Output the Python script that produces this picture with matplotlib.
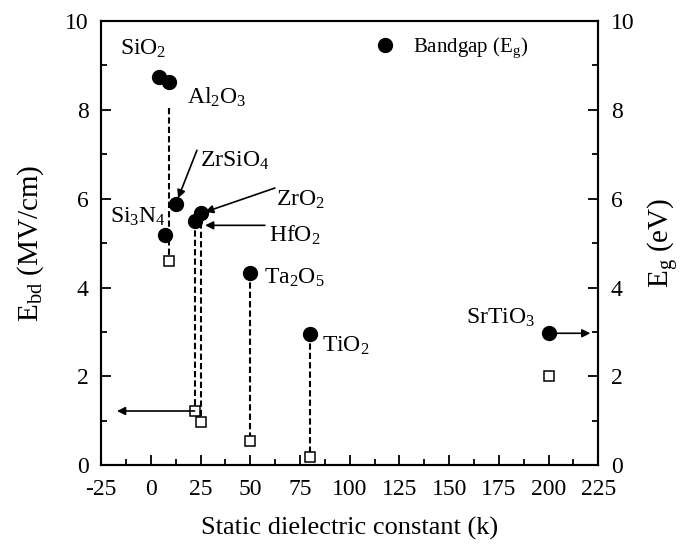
import matplotlib
matplotlib.use("Agg")
import matplotlib.pyplot as plt
from matplotlib.ticker import MultipleLocator

plt.rcParams['font.family'] = ['Liberation Serif', 'DejaVu Serif']
plt.rcParams['mathtext.fontset'] = 'custom'
plt.rcParams['mathtext.rm'] = 'Liberation Serif'
plt.rcParams['mathtext.default'] = 'regular'
plt.rcParams['axes.unicode_minus'] = False

# bandgap points (filled circles, right axis)
names = ['SiO$_2$', 'Al$_2$O$_3$', 'ZrSiO$_4$', 'Si$_3$N$_4$', 'ZrO$_2$',
         'HfO$_2$', 'Ta$_2$O$_5$', 'TiO$_2$', 'SrTiO$_3$']
k_vals = [3.9, 9, 12.5, 7, 25, 22, 50, 80, 200]
eg_vals = [8.75, 8.63, 5.88, 5.18, 5.68, 5.5, 4.32, 2.95, 2.97]

# breakdown field points (open squares, left axis)
ebd_k = [9, 22, 25, 50, 80, 200]
ebd_vals = [4.6, 1.22, 0.97, 0.55, 0.18, 2.0]

# which bandgap point each dashed drop line starts from (index into k_vals)
drop_from = [1, 5, 4, 6, 7]

# label placement: (x, y, ha)
label_pos = [(-4, 9.37, 'center'), (33, 8.29, 'center'), (24.5, 6.85, 'left'),
             (-6.5, 5.6, 'center'), (63, 5.97, 'left'), (59.5, 5.18, 'left'),
             (57, 4.21, 'left'), (86, 2.68, 'left'), (193, 3.31, 'right')]

fig = plt.figure(figsize=(6.83, 5.46), dpi=100)
ax = fig.add_axes([0.148, 0.148, 0.728, 0.8135])
ax2 = ax.twinx()

for i, j in enumerate(drop_from):
    top = min(eg_vals[j], 8.05)  # Al2O3 line starts below its label
    ax.plot([k_vals[j], ebd_k[i]], [top, ebd_vals[i]], ls=(0, (3, 1.5)),
            color='black', lw=1.5, zorder=1)

ax.plot(ebd_k, ebd_vals, 's', mfc='white', mec='black', ms=7, mew=1.1, zorder=3)
ax2.plot(k_vals, eg_vals, 'o', color='black', ms=10, zorder=3, label='Bandgap (E$_g$)')

for name, (x, y, ha) in zip(names, label_pos):
    ax.text(x, y, name, ha=ha, va='center', fontsize=17)

arrow = dict(arrowstyle='-|>', color='black', lw=1.2, mutation_scale=12, shrinkA=0, shrinkB=0)
ax.annotate('', xy=(13.7, 6.01), xytext=(23.2, 7.09), arrowprops=arrow)
ax.annotate('', xy=(27.3, 5.7), xytext=(62.4, 6.24), arrowprops=arrow)
ax.annotate('', xy=(27.3, 5.4), xytext=(57.4, 5.4), arrowprops=arrow)
ax.annotate('', xy=(-17, 1.22), xytext=(22, 1.22), arrowprops=arrow)
ax.annotate('', xy=(221, 2.97), xytext=(204, 2.97), arrowprops=arrow)

for a in (ax, ax2):
    a.set_ylim(0, 10)
    a.yaxis.set_major_locator(MultipleLocator(2))
    a.yaxis.set_minor_locator(MultipleLocator(1))
    for s in a.spines.values():
        s.set_linewidth(1.5)
ax.set_xlim(-25, 225)
ax.xaxis.set_major_locator(MultipleLocator(25))
ax.xaxis.set_minor_locator(MultipleLocator(12.5))
ax.tick_params(which='both', direction='in', labelsize=17, width=1.3, top=False, right=False)
ax.tick_params(axis='x', which='major', pad=10)
ax.tick_params(axis='y', which='major', pad=9)
ax.tick_params(which='major', length=7)
ax.tick_params(which='minor', length=4)
ax2.tick_params(which='both', direction='in', labelsize=17, width=1.3)
ax2.tick_params(which='major', length=7, pad=9)
ax2.tick_params(which='minor', length=4)

ax.set_xlabel('Static dielectric constant (k)', fontsize=19, labelpad=12)
ax.set_ylabel(r'E$_{bd}$ (MV/cm)', fontsize=21, labelpad=14)
ax2.set_ylabel('E$_g$ (eV)', fontsize=21, labelpad=8)

ax2.legend(loc='center left', bbox_to_anchor=(0.53, 0.94), frameon=False,
           fontsize=15, handlelength=1, handletextpad=0.8, borderpad=0)

fig.savefig('out.png', dpi=100)
